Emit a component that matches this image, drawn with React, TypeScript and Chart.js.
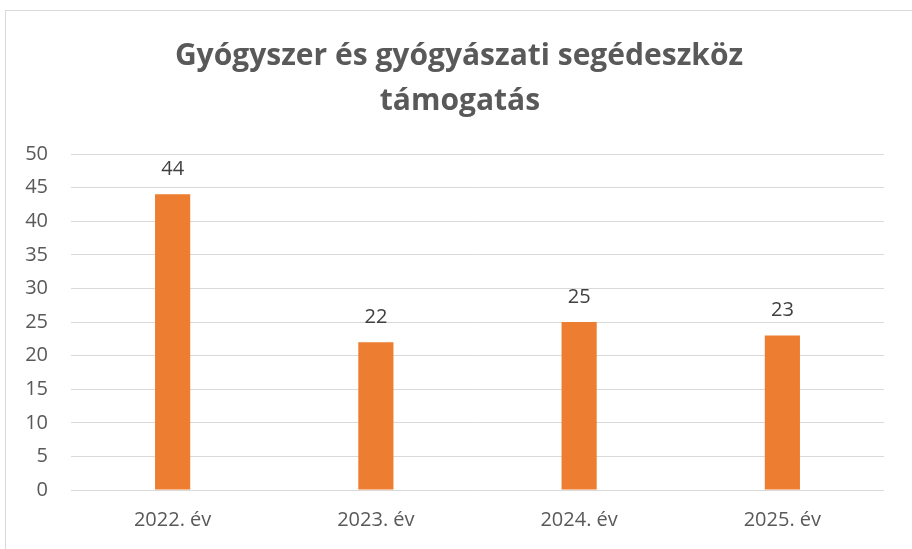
import React, { useEffect, useRef } from "react";
import { Chart, registerables } from "chart.js";

Chart.register(...registerables);

const categories = ["2022. év", "2023. év", "2024. év", "2025. év"];
const values = [44, 22, 25, 23];
const titleLines = ["Gyógyszer és gyógyászati segédeszköz", "támogatás"];
const yMin = 0;
const yMax = 50;
const yStep = 5;

const FONT = "'Open Sans', 'Noto Sans', sans-serif";

const labelPlugin = {
  id: "valueLabels",
  afterDatasetsDraw(chart: any) {
    const ctx = chart.ctx;
    ctx.save();
    ctx.fillStyle = "#404040";
    ctx.font = `20px ${FONT}`;
    ctx.textAlign = "center";
    ctx.textBaseline = "middle";
    chart.data.datasets.forEach((ds: any, i: number) => {
      const meta = chart.getDatasetMeta(i);
      meta.data.forEach((bar: any, j: number) => {
        ctx.fillText(String(ds.data[j]), bar.x, bar.y - 25);
      });
    });
    ctx.restore();
  },
};

const titlePlugin = {
  id: "customTitle",
  afterDraw(chart: any) {
    const ctx = chart.ctx;
    ctx.save();
    ctx.fillStyle = "#595959";
    ctx.font = `bold 30px ${FONT}`;
    ctx.textAlign = "center";
    ctx.textBaseline = "alphabetic";
    ctx.fillText(titleLines[0], 459, 65);
    ctx.fillText(titleLines[1], 460, 110);
    ctx.restore();
  },
};

export default function App() {
  const ref = useRef<HTMLCanvasElement>(null);
  useEffect(() => {
    document.body.style.margin = "0";
    const chart = new Chart(ref.current!, {
      type: "bar",
      data: {
        labels: categories,
        datasets: [
          {
            data: values,
            backgroundColor: "#ED7D31",
            borderWidth: 0,
            categoryPercentage: 1,
            barPercentage: 0.173,
          },
        ],
      },
      options: {
        animation: false,
        responsive: false,
        maintainAspectRatio: false,
        layout: { padding: { left: 0, right: 28, top: 154, bottom: 0 } },
        plugins: {
          legend: { display: false },
          title: { display: false },
          tooltip: { enabled: false },
        },
        scales: {
          x: {
            grid: { display: false, drawTicks: false },
            border: { display: false },
            ticks: {
              color: "#595959",
              font: { family: FONT, size: 20 },
              padding: 18,
            },
            afterFit(scale: any) {
              scale.height = 59;
            },
          },
          y: {
            min: yMin,
            max: yMax,
            grid: { color: "#d9d9d9", lineWidth: 1, drawTicks: false },
            border: { display: false },
            ticks: {
              stepSize: yStep,
              color: "#595959",
              font: { family: FONT, size: 20 },
              padding: 23,
            },
            afterFit(scale: any) {
              scale.width = 71;
            },
          },
        },
      },
      plugins: [labelPlugin, titlePlugin],
    });
    return () => chart.destroy();
  }, []);
  return (
    <div style={{ position: "relative", width: 912, height: 549, overflow: "hidden", background: "#fff" }}>
      <div
        style={{
          position: "absolute",
          left: 5,
          top: 10,
          width: 940,
          height: 600,
          border: "1px solid #d9d9d9",
        }}
      />
      <canvas ref={ref} width={912} height={549} style={{ position: "absolute", left: 0, top: 0 }} />
    </div>
  );
}
